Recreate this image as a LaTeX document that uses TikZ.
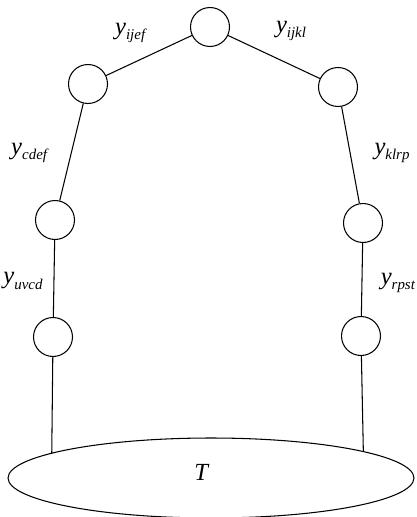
\documentclass[tikz,border=0pt]{standalone}
\usepackage{fontspec}
\setmainfont{Liberation Serif}
\usetikzlibrary{shapes.geometric}

\newcommand{\yvar}[1]{\textit{y}\raisebox{-0.5ex}{\fontsize{8.5}{9}\selectfont\textit{#1}}}

\tikzset{
  vtx/.style={draw, circle, minimum size=0.78cm, inner sep=0pt},
  lbl/.style={font=\fontsize{14}{16}\selectfont, inner sep=0pt},
}

\begin{document}
\begin{tikzpicture}[x=0.02cm, y=-0.02cm, line width=0.6pt]
        \useasboundingbox (0,0) rectangle (416,517);
        % the tree of circles
        \node[vtx] (top) at (210,27) {};
        \node[vtx] (upL) at (88,84) {};  \node[vtx] (upR) at (338,87) {};
        \node[vtx] (midL) at (55,220) {}; \node[vtx] (midR) at (363,223) {};
        \node[vtx] (lowL) at (53,337) {}; \node[vtx] (lowR) at (361,336) {};
        \node[draw, ellipse, minimum width=8.12cm, minimum height=1.6cm] (T) at (211,478) {};
        \node[lbl] at (202,472) {\textit{T}};
        % edges
        \draw (top) -- (upL); \draw (top) -- (upR);
        \draw (upL) -- (midL); \draw (upR) -- (midR);
        \draw (midL) -- (lowL); \draw (midR) -- (lowR);
        \draw (lowL) -- (T.171.8); \draw (lowR) -- (T.10.2);
        % edge variables
        \node[lbl] (yijef) at (131,33) {\yvar{ijef}};
        \node[lbl] (yijkl) at (291,31) {\yvar{ijkl}};
        \node[lbl] (ycdef) at (30,153) {\yvar{cdef}};
        \node[lbl] (yklrp) at (392,153) {\yvar{klrp}};
        \node[lbl] (yuvcd) at (23,281) {\yvar{uvcd}};
        \node[lbl] (yrpst) at (398,283) {\yvar{rpst}};
    \end{tikzpicture}
\end{document}
